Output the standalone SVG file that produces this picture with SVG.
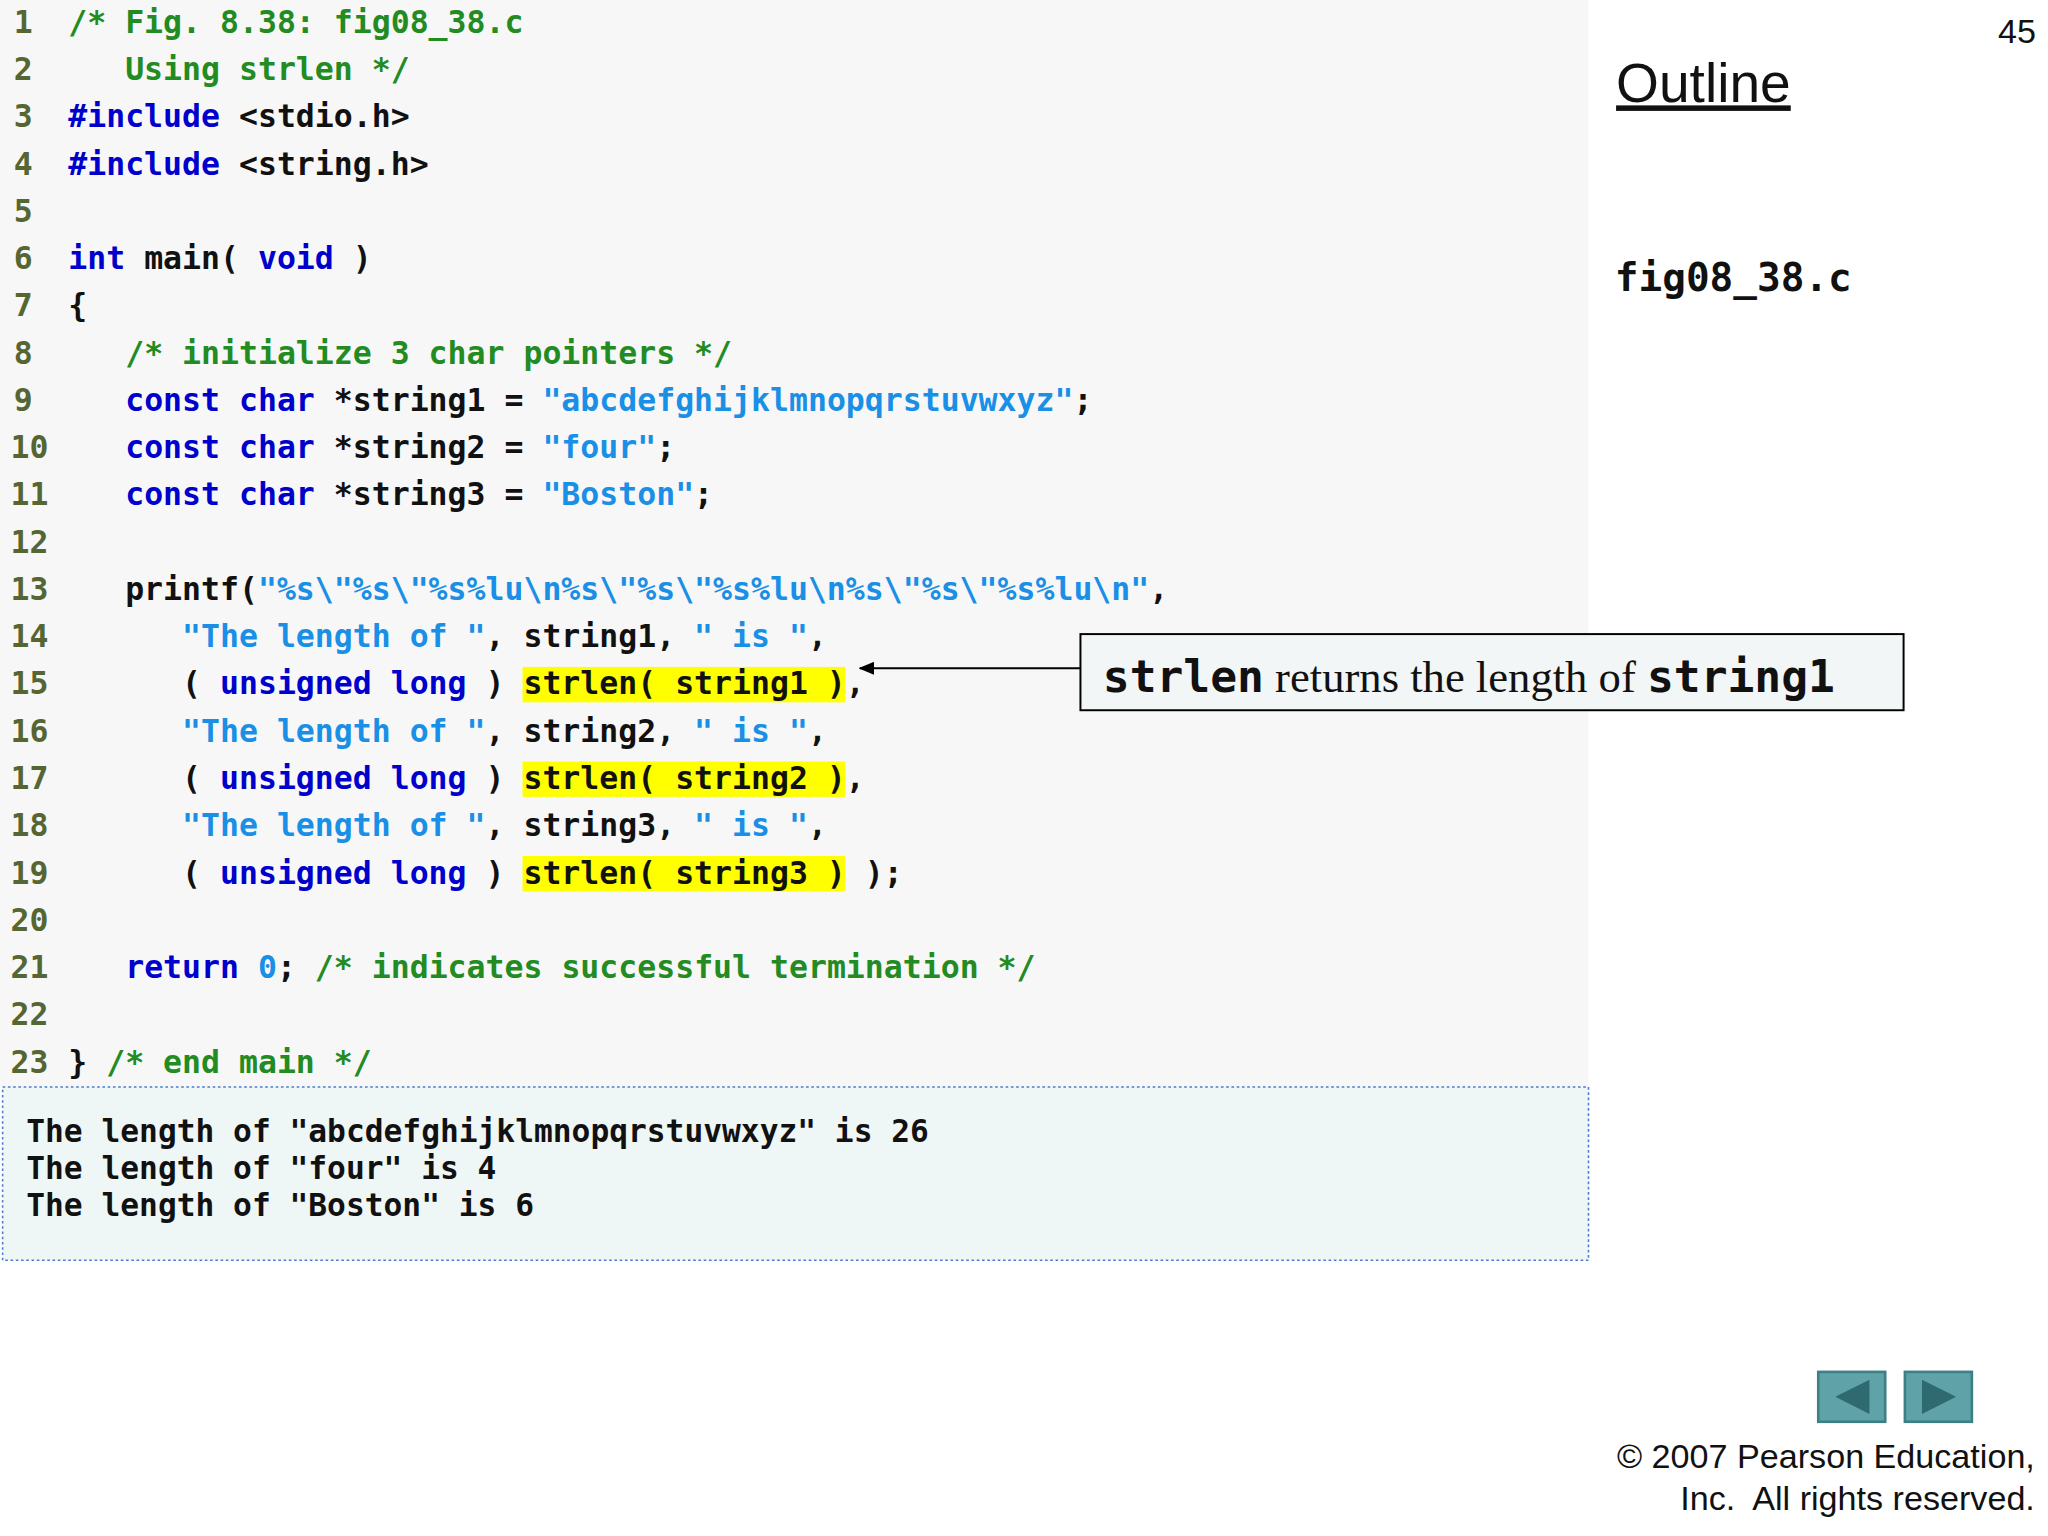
<svg xmlns="http://www.w3.org/2000/svg" width="2048" height="1536" viewBox="0 0 2048 1536">
<style>
text{white-space:pre}
.c{font-family:"DejaVu Sans Mono",monospace;font-weight:bold;font-size:24px;fill:#111}
.n{font-family:"DejaVu Sans Mono",monospace;font-weight:bold;font-size:24px;fill:#556633;text-anchor:end}
.cm{fill:#228b22}.kw{fill:#0000cc}.st{fill:#1a8fe6}
.hl{fill:#ffff00}
.o{font-family:"DejaVu Sans Mono",monospace;font-weight:bold;font-size:23.8px;fill:#111}
.sans{font-family:"Liberation Sans",Arial,sans-serif;fill:#111}
</style>
<defs><marker id="ah" markerWidth="12" markerHeight="10" refX="11" refY="5" orient="auto" markerUnits="userSpaceOnUse"><path d="M0,0 L12,5 L0,10 z" fill="#000"/></marker></defs>
<rect width="2048" height="1536" fill="#fff"/>
<g transform="scale(1.31282)">
<rect x="0" y="0" width="1210" height="828" fill="#f7f7f7"/>
<g id="highlights">
<rect class="hl" x="398" y="508" width="246" height="27"/>
<rect class="hl" x="398" y="580" width="246" height="27"/>
<rect class="hl" x="398" y="652" width="246" height="27"/>
</g>
<g id="linenos">
<text class="n" x="25" y="25">1</text><text class="n" x="25" y="61">2</text><text class="n" x="25" y="97">3</text><text class="n" x="25" y="133">4</text><text class="n" x="25" y="169">5</text><text class="n" x="25" y="205">6</text><text class="n" x="25" y="241">7</text><text class="n" x="25" y="277">8</text><text class="n" x="25" y="313">9</text><text class="n" x="37" y="349">10</text><text class="n" x="37" y="385">11</text><text class="n" x="37" y="421">12</text><text class="n" x="37" y="457">13</text><text class="n" x="37" y="493">14</text><text class="n" x="37" y="529">15</text><text class="n" x="37" y="565">16</text><text class="n" x="37" y="601">17</text><text class="n" x="37" y="637">18</text><text class="n" x="37" y="673">19</text><text class="n" x="37" y="709">20</text><text class="n" x="37" y="745">21</text><text class="n" x="37" y="781">22</text><text class="n" x="37" y="817">23</text>
</g>
<g id="code" xml:space="preserve">
<text class="c" x="52" y="25"><tspan class="cm">/* Fig. 8.38: fig08_38.c</tspan></text>
<text class="c" x="52" y="61"><tspan class="cm">   Using strlen */</tspan></text>
<text class="c" x="52" y="97"><tspan class="kw">#include</tspan> &lt;stdio.h&gt;</text>
<text class="c" x="52" y="133"><tspan class="kw">#include</tspan> &lt;string.h&gt;</text>
<text class="c" x="52" y="205"><tspan class="kw">int</tspan> main( <tspan class="kw">void</tspan> )</text>
<text class="c" x="52" y="241">{</text>
<text class="c" x="52" y="277">   <tspan class="cm">/* initialize 3 char pointers */</tspan></text>
<text class="c" x="52" y="313">   <tspan class="kw">const char</tspan> *string1 = <tspan class="st">"abcdefghijklmnopqrstuvwxyz"</tspan>;</text>
<text class="c" x="52" y="349">   <tspan class="kw">const char</tspan> *string2 = <tspan class="st">"four"</tspan>;</text>
<text class="c" x="52" y="385">   <tspan class="kw">const char</tspan> *string3 = <tspan class="st">"Boston"</tspan>;</text>
<text class="c" x="52" y="457">   printf(<tspan class="st">"%s\"%s\"%s%lu\n%s\"%s\"%s%lu\n%s\"%s\"%s%lu\n"</tspan>,</text>
<text class="c" x="52" y="493">      <tspan class="st">"The length of "</tspan>, string1, <tspan class="st">" is "</tspan>,</text>
<text class="c" x="52" y="529">      ( <tspan class="kw">unsigned long</tspan> ) strlen( string1 ),</text>
<text class="c" x="52" y="565">      <tspan class="st">"The length of "</tspan>, string2, <tspan class="st">" is "</tspan>,</text>
<text class="c" x="52" y="601">      ( <tspan class="kw">unsigned long</tspan> ) strlen( string2 ),</text>
<text class="c" x="52" y="637">      <tspan class="st">"The length of "</tspan>, string3, <tspan class="st">" is "</tspan>,</text>
<text class="c" x="52" y="673">      ( <tspan class="kw">unsigned long</tspan> ) strlen( string3 ) );</text>
<text class="c" x="52" y="745">   <tspan class="kw">return</tspan> <tspan class="st">0</tspan>; <tspan class="cm">/* indicates successful termination */</tspan></text>
<text class="c" x="52" y="817">} <tspan class="cm">/* end main */</tspan></text>
</g>
<g id="output">
<rect x="2" y="828" width="1208" height="132" fill="#eef6f6" stroke="#4a7fd0" stroke-width="1.2" stroke-dasharray="2,2"/>
<text class="o" x="20" y="870">The length of "abcdefghijklmnopqrstuvwxyz" is 26</text>
<text class="o" x="20" y="898">The length of "four" is 4</text>
<text class="o" x="20" y="926">The length of "Boston" is 6</text>
</g>
<g id="connectors">
<line x1="823" y1="509" x2="655" y2="509" stroke="#000" stroke-width="1.5" marker-end="url(#ah)"/>
</g>
<g id="callout">
<rect x="823" y="483" width="627" height="58" fill="#f2f6f6" stroke="#000" stroke-width="1.5"/>
<text x="840" y="527" font-size="34" fill="#111"><tspan font-family="DejaVu Sans Mono,monospace" font-weight="bold">strlen</tspan><tspan font-family="Liberation Serif,serif"> returns the length of </tspan><tspan font-family="DejaVu Sans Mono,monospace" font-weight="bold">string1</tspan></text>
</g>
<g id="side">
<text class="sans" x="1522" y="33" font-size="26">45</text>
<text class="sans" x="1231" y="78" font-size="42" text-decoration="underline">Outline</text>
<text x="1230" y="222" font-family="DejaVu Sans Mono,monospace" font-weight="bold" font-size="30" fill="#111">fig08_38.c</text>
<text class="sans" x="1550" y="1118" font-size="26" text-anchor="end">© 2007 Pearson Education,</text>
<text class="sans" x="1550" y="1150" font-size="26" text-anchor="end">Inc.  All rights reserved.</text>
</g>
<g id="nav">
<rect x="1385" y="1045" width="51" height="38" fill="#5fa3a8" stroke="#3d7f84" stroke-width="2"/>
<path d="M1398,1064 L1424,1051 L1424,1077 z" fill="#2e6a70"/>
<rect x="1451" y="1045" width="51" height="38" fill="#5fa3a8" stroke="#3d7f84" stroke-width="2"/>
<path d="M1490,1064 L1464,1051 L1464,1077 z" fill="#2e6a70"/>
</g>
</g>
</svg>
